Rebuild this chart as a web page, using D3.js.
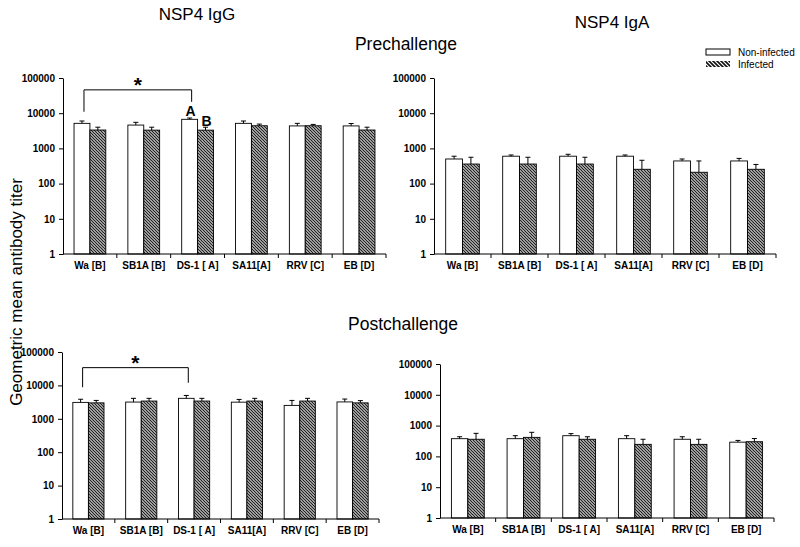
<!DOCTYPE html>
<html><head><meta charset="utf-8">
<script src="https://cdn.jsdelivr.net/npm/d3@7/dist/d3.min.js"></script>
<style>body{margin:0;background:#fff}svg{display:block}</style>
</head><body>
<svg id="c" width="800" height="547"></svg>
<script>
const categories = ["Wa [B]", "SB1A [B]", "DS-1 [ A]", "SA11[A]", "RRV [C]", "EB [D]"];
const series = ["Non-infected", "Infected"];
const yTicks = [1, 10, 100, 1000, 10000, 100000];

// NSP4 IgG, prechallenge
const iggPreNon = [5150, 4600, 6700, 5150, 4350, 4350];
const iggPreNonErr = [6000, 5500, 7300, 6000, 5150, 5100];
const iggPreInf = [3330, 3300, 3300, 4400, 4400, 3330];
const iggPreInfErr = [4000, 4000, 4000, 4900, 4800, 4000];
// NSP4 IgA, prechallenge
const igaPreNon = [500, 600, 600, 600, 440, 440];
const igaPreNonErr = [600, 650, 680, 650, 500, 520];
const igaPreInf = [360, 360, 360, 255, 210, 255];
const igaPreInfErr = [560, 560, 560, 460, 440, 350];
// NSP4 IgG, postchallenge
const iggPostNon = [3100, 3170, 4100, 3150, 2520, 3200];
const iggPostNonErr = [3850, 4100, 5000, 3800, 3550, 3900];
const iggPostInf = [3000, 3400, 3400, 3400, 3400, 3000];
const iggPostInfErr = [3550, 4100, 4100, 4100, 4100, 3500];
// NSP4 IgA, postchallenge
const igaPostNon = [376, 376, 470, 376, 360, 290];
const igaPostNonErr = [435, 470, 550, 470, 435, 330];
const igaPostInf = [360, 415, 360, 246, 246, 300];
const igaPostInfErr = [560, 605, 435, 360, 360, 380];

const svg = d3.select("#c");
const FONT = "'Liberation Sans', Arial, sans-serif";
const defs = svg.append("defs");
const pat = defs.append("pattern").attr("id", "hatch").attr("patternUnits", "userSpaceOnUse")
  .attr("width", 3).attr("height", 3);
pat.append("rect").attr("width", 3).attr("height", 3).attr("fill", "#fff");
pat.append("path").attr("d", "M-1,-1 L4,4 M-1,2 L1,4 M2,-1 L4,1").attr("stroke", "#222").attr("stroke-width", 1.3);
const pat2 = defs.append("pattern").attr("id", "hatchL").attr("patternUnits", "userSpaceOnUse")
  .attr("width", 4).attr("height", 4);
pat2.append("rect").attr("width", 4).attr("height", 4).attr("fill", "#fff");
pat2.append("path").attr("d", "M-1,-1 L5,5 M-1,3 L1,5 M3,-1 L5,1").attr("stroke", "#111").attr("stroke-width", 1.6);

function panel(cfg, non, nonErr, inf, infErr) {
  const g = svg.append("g");
  const x = d3.scaleBand().domain(categories).range([cfg.xL, cfg.xR]).padding(0);
  const step = x.step();
  const xs = d3.scaleBand().domain(series).range([step * 0.205, step * 0.795]).padding(0);
  const y = d3.scaleLog().domain([1, 100000]).range([cfg.yB, cfg.yT]);

  const rows = [];
  categories.forEach((c, i) => {
    rows.push({c, s: series[0], v: non[i], e: nonErr[i]});
    rows.push({c, s: series[1], v: inf[i], e: infErr[i]});
  });

  g.selectAll("rect.bar").data(rows).join("rect")
    .attr("x", d => x(d.c) + xs(d.s))
    .attr("y", d => y(d.v))
    .attr("width", xs.bandwidth())
    .attr("height", d => y(1) - y(d.v))
    .attr("fill", d => d.s === series[0] ? "#fff" : "url(#hatch)")
    .attr("stroke", "#000").attr("stroke-width", 0.9);

  const eb = g.selectAll("g.eb").data(rows).join("g").attr("stroke", "#000").attr("stroke-width", 1);
  eb.append("line")
    .attr("x1", d => x(d.c) + xs(d.s) + xs.bandwidth() / 2)
    .attr("x2", d => x(d.c) + xs(d.s) + xs.bandwidth() / 2)
    .attr("y1", d => y(d.v)).attr("y2", d => y(d.e));
  eb.append("line")
    .attr("x1", d => x(d.c) + xs(d.s) + xs.bandwidth() / 2 - 2.5)
    .attr("x2", d => x(d.c) + xs(d.s) + xs.bandwidth() / 2 + 2.5)
    .attr("y1", d => y(d.e)).attr("y2", d => y(d.e));

  const ya = g.append("g").attr("transform", `translate(${cfg.xL},0)`)
    .call(d3.axisLeft(y).tickValues(yTicks).tickFormat(d3.format("d")).tickSizeInner(4).tickSizeOuter(0));
  ya.select(".domain").attr("stroke", "#000");
  ya.selectAll("text").attr("font-family", FONT).attr("font-weight", "bold").attr("font-size", 10).attr("fill", "#000").attr("dx", "-1");

  const xa = g.append("g").attr("transform", `translate(0,${cfg.yB})`);
  xa.append("line").attr("x1", cfg.xL).attr("x2", cfg.xR).attr("y1", 0).attr("y2", 0).attr("stroke", "#000");
  const bounds = categories.slice(1).map(c => x(c)).concat([cfg.xR]);
  xa.selectAll("line.t").data(bounds).join("line").attr("class", "t")
    .attr("x1", d => d).attr("x2", d => d).attr("y1", 0).attr("y2", 4).attr("stroke", "#000");
  xa.selectAll("text").data(categories).join("text")
    .attr("x", d => x(d) + step / 2).attr("y", 15)
    .attr("text-anchor", "middle").attr("font-family", FONT).attr("font-weight", "bold")
    .attr("font-size", 10).text(d => d);
  return {x, xs, y, g};
}

const p1 = panel({xL: 63, xR: 386, yB: 254, yT: 78}, iggPreNon, iggPreNonErr, iggPreInf, iggPreInfErr);
const p2 = panel({xL: 434, xR: 776, yB: 254, yT: 78}, igaPreNon, igaPreNonErr, igaPreInf, igaPreInfErr);
const p3 = panel({xL: 62, xR: 379, yB: 519, yT: 352}, iggPostNon, iggPostNonErr, iggPostInf, iggPostInfErr);
const p4 = panel({xL: 440, xR: 774, yB: 518, yT: 364}, igaPostNon, igaPostNonErr, igaPostInf, igaPostInfErr);

function bracket(p, yLine, yLeft, yRight) {
  const cx = i => p.x(categories[i]) + p.xs(series[0]) + p.xs.bandwidth() / 2 + 2;
  const x1 = cx(0), x2 = cx(2);
  svg.append("path")
    .attr("d", `M${x1},${p.y(yLeft)} L${x1},${p.y(yLine)} L${x2},${p.y(yLine)} L${x2},${p.y(yRight)}`)
    .attr("fill", "none").attr("stroke", "#000").attr("stroke-width", 1);
  svg.append("text").attr("x", (x1 + x2) / 2).attr("y", p.y(yLine) + 2)
    .attr("text-anchor", "middle").attr("font-family", FONT).attr("font-weight", "bold")
    .attr("font-size", 21).text("*");
}
bracket(p1, 46000, 11000, 21000);
bracket(p3, 34000, 8800, 12000);

svg.append("text").attr("x", p1.x(categories[2]) + p1.xs(series[0]) + p1.xs.bandwidth() / 2 + 1)
  .attr("y", p1.y(iggPreNonErr[2]) - 2).attr("text-anchor", "middle")
  .attr("font-family", FONT).attr("font-weight", "bold").attr("font-size", 14).text("A");
svg.append("text").attr("x", p1.x(categories[2]) + p1.xs(series[1]) + p1.xs.bandwidth() / 2 + 1)
  .attr("y", p1.y(iggPreInfErr[2]) - 1).attr("text-anchor", "middle")
  .attr("font-family", FONT).attr("font-weight", "bold").attr("font-size", 14).text("B");

const T = (x, y, s, txt, rot) => {
  const t = svg.append("text").attr("font-family", FONT).attr("font-size", s).attr("text-anchor", "middle").text(txt);
  if (rot) t.attr("transform", `translate(${x},${y}) rotate(-90)`); else t.attr("x", x).attr("y", y);
};
T(197, 20, 17, "NSP4 IgG");
T(612, 28, 17, "NSP4 IgA");
T(406, 50, 17.5, "Prechallenge");
T(403, 330, 17.5, "Postchallenge");
T(22, 292, 17, "Geometric mean antibody titer", true);

const lg = svg.append("g");
lg.append("rect").attr("x", 706).attr("y", 49).attr("width", 24).attr("height", 6)
  .attr("fill", "#fff").attr("stroke", "#000").attr("stroke-width", 1);
lg.append("rect").attr("x", 706).attr("y", 61).attr("width", 24).attr("height", 6)
  .attr("fill", "url(#hatchL)");
lg.append("text").attr("x", 738).attr("y", 56).attr("font-family", FONT).attr("font-size", 10).text(series[0]);
lg.append("text").attr("x", 738).attr("y", 68).attr("font-family", FONT).attr("font-size", 10).text(series[1]);
</script>
</body></html>
